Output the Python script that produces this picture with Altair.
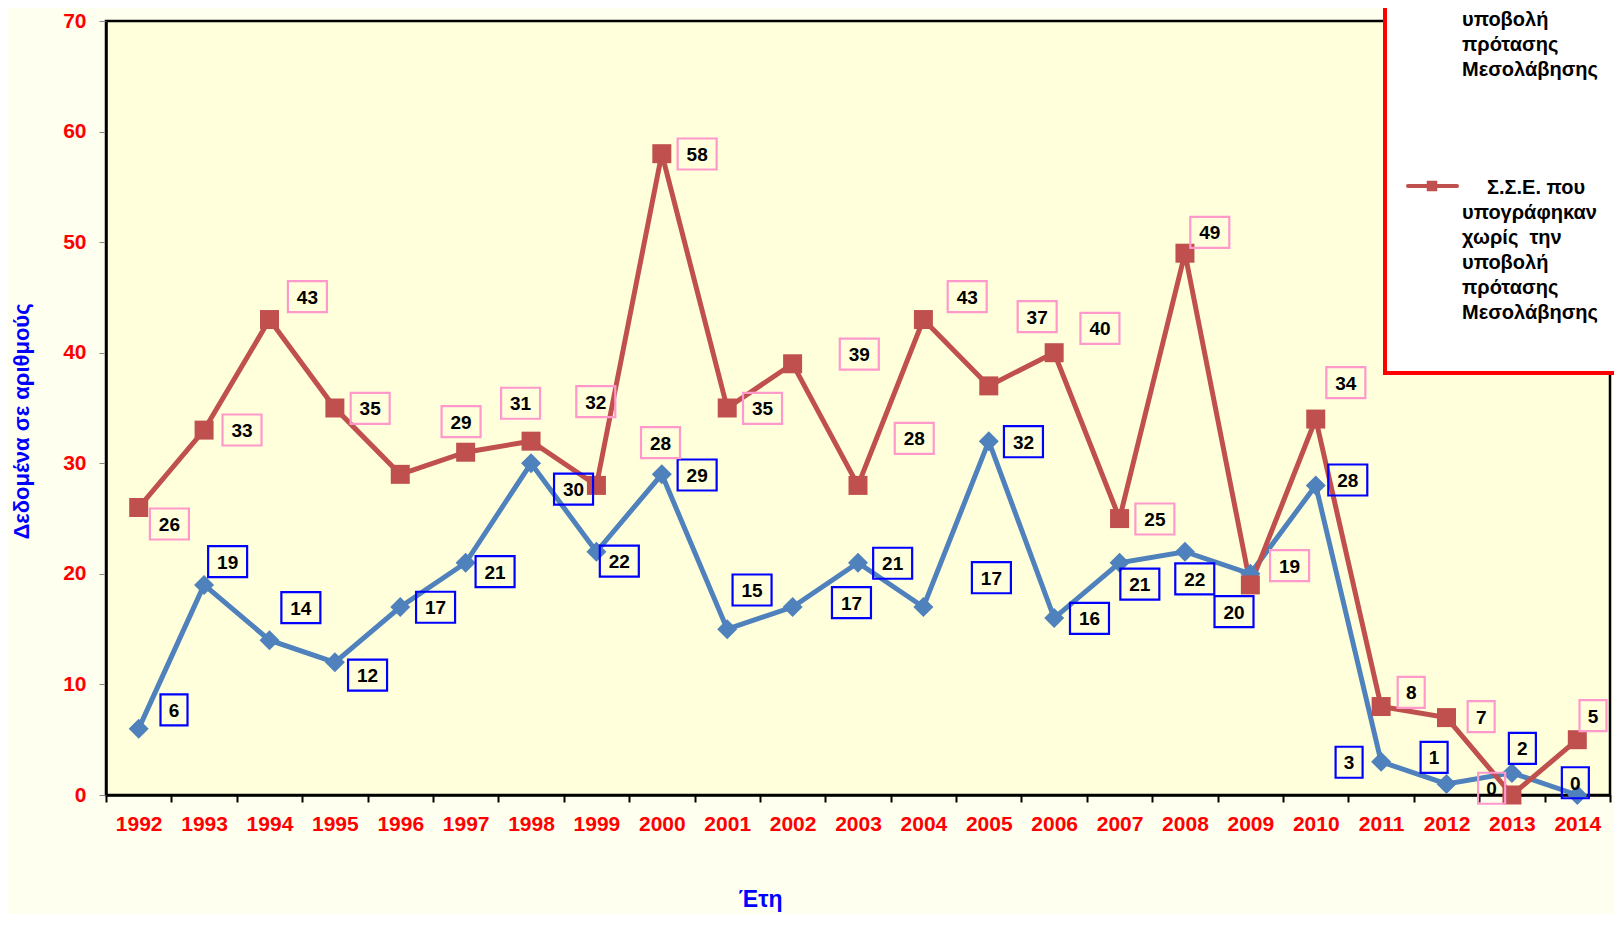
import altair as alt
import pandas as pd

# ---------------- data ----------------
years = list(range(1992, 2015))
blue_values = [6, 19, 14, 12, 17, 21, 30, 22, 29, 15, 17, 21, 17, 32, 16, 21, 22, 20, 28, 3, 1, 2, 0]
red_values = [26, 33, 43, 35, 29, 31, 32, 28, 58, 35, 39, 28, 43, 37, 40, 25, 49, 19, 34, 8, 7, 0, 5]

# where each data label sits in the original (year axis / value axis units)
red_label_year = [1992.47, 1993.58, 1994.58, 1995.54, 1996.93, 1997.84, 1998.99, 1999.98, 2000.54,
                  2001.54, 2003.02, 2003.86, 2004.67, 2005.74, 2006.70, 2007.54, 2008.38, 2009.60,
                  2010.46, 2011.46, 2012.53, 2012.69, 2014.24]
red_label_value = [24.51, 33.01, 45.07, 34.97, 33.76, 35.43, 35.57, 31.86, 57.97, 34.97, 39.88, 32.26,
                   45.07, 43.26, 42.21, 24.96, 50.89, 20.74, 37.29, 9.29, 7.08, 0.61, 7.17]
blue_label_year = [1992.54, 1993.36, 1994.48, 1995.50, 1996.54, 1997.45, 1998.65, 1999.35, 2000.54,
                   2001.38, 2002.90, 2003.53, 2005.04, 2005.53, 2006.54, 2007.31, 2008.15, 2008.75,
                   2010.49, 2010.51, 2011.81, 2013.16, 2013.97]
blue_label_value = [7.69, 21.10, 16.94, 10.85, 16.98, 20.20, 27.67, 21.16, 28.94, 18.54, 17.39, 20.96,
                    19.65, 31.95, 15.98, 19.08, 19.54, 16.58, 28.49, 2.96, 3.41, 4.22, 1.11]

y_ticks = [0, 10, 20, 30, 40, 50, 60, 70]
x_title = "Έτη"
y_title = "Δεδομένα σε αριθμούς"
legend_blue_head = "Σ.Σ.Ε. που"
legend_blue_rest = "υπογράφηκαν\nμετά την\nυποβολή\nπρότασης\nΜεσολάβησης"
legend_red_head = "Σ.Σ.Ε. που"
legend_red_rest = "υπογράφηκαν\nχωρίς\u00a0 την\nυποβολή\nπρότασης\nΜεσολάβησης"

# ---------------- styles ----------------
FONT = "Liberation Sans"
BLUE = "#4F81BD"
RED = "#C0504D"
BOX_BLUE = "#0000FF"
BOX_PINK = "#FF99CC"
W, H = 1504, 774
BAND = W / len(years)

df_blue = pd.DataFrame({"year": years, "value": blue_values,
                        "lx": blue_label_year, "ly": blue_label_value})
df_red = pd.DataFrame({"year": years, "value": red_values,
                       "lx": red_label_year, "ly": red_label_value})

x_scale = alt.Scale(domain=[years[0] - 0.5, years[-1] + 0.5], nice=False, zero=False)
y_scale = alt.Scale(domain=[0, 70], nice=False, zero=True)

x_axis = alt.Axis(
    values=[y - 0.5 for y in years] + [years[-1] + 0.5],
    labelExpr=f"datum.value < {years[-1]} ? '' + (floor(datum.value) + 1) : ''",
    labelOffset=BAND / 2, labelFlush=False, labelOverlap=False, labelBound=False,
    labelColor="#FF0000", labelFont=FONT, labelFontWeight="bold", labelFontSize=21,
    labelPadding=11, tickSize=7, tickColor="black", tickWidth=2,
    domainColor="black", domainWidth=2.5, grid=False,
    title=x_title, titleColor="#0000FF", titleFont=FONT, titleFontSize=23,
    titleFontWeight="bold", titleX=654, titleY=104, titleAlign="center",
    titleBaseline="middle", titleAnchor="start")

y_axis = alt.Axis(
    values=y_ticks, labelColor="#FF0000", labelFont=FONT, labelFontWeight="bold",
    labelFontSize=21, labelPadding=13, tickSize=7, tickColor="#888888", tickWidth=1,
    domainColor="black", domainWidth=2.5, grid=False,
    title=y_title, titleColor="#0000FF", titleFont=FONT, titleFontSize=22,
    titleFontWeight="bold", titleX=-85, titleY=400, titleAlign="center",
    titleBaseline="middle", titleAngle=270, titleAnchor="start")

box2 = "M-1,-0.795L1,-0.795L1,0.795L-1,0.795Z"
box1 = "M-0.871,-1L0.871,-1L0.871,1L-0.871,1Z"


def X(field):
    return alt.X(field, scale=x_scale, axis=x_axis)


def Y(field):
    return alt.Y(field, scale=y_scale, axis=y_axis)


def series(df, color, shape, size, box_color):
    base = alt.Chart(df)
    line = base.mark_line(color=color, strokeWidth=5).encode(x=X("year:Q"), y=Y("value:Q"))
    pts = base.mark_point(shape=shape, filled=True, size=size, color=color, opacity=1).encode(
        x=X("year:Q"), y=Y("value:Q"))
    boxes = base.mark_point(filled=False, strokeWidth=2.2, opacity=1, color=box_color).encode(
        x=X("lx:Q"), y=Y("ly:Q"),
        shape=alt.condition("datum.value >= 10", alt.value(box2), alt.value(box1)),
        size=alt.condition("datum.value >= 10", alt.value(1521), alt.value(961)))
    texts = base.mark_text(font=FONT, fontWeight="bold", fontSize=19, color="black",
                           baseline="middle", align="center", dy=1).encode(
        x=X("lx:Q"), y=Y("ly:Q"), text="value:Q")
    return line, pts, boxes, texts


b_line, b_pts, b_boxes, b_texts = series(df_blue, BLUE, "diamond", 400, BOX_BLUE)
r_line, r_pts, r_boxes, r_texts = series(df_red, RED, "square", 361, BOX_PINK)

# ---------------- manual legend (top right, partly outside the view) ----------------
one = pd.DataFrame({"a": [0]})
legend_box = alt.Chart(one).mark_rect(fill="white", stroke="#FF0000", strokeWidth=4).encode(
    x=alt.value(1279), x2=alt.value(1650), y=alt.value(-120), y2=alt.value(352))


def legend_item(color, shape, head, rest, y1):
    rule = alt.Chart(one).mark_rule(color=color, strokeWidth=4, strokeCap="round").encode(
        x=alt.value(1302), x2=alt.value(1351), y=alt.value(y1 - 2))
    sym = alt.Chart(one).mark_point(shape=shape, filled=True, size=110, color=color, opacity=1).encode(
        x=alt.value(1326), y=alt.value(y1 - 2))
    t1 = alt.Chart(pd.DataFrame({"t": [head]})).mark_text(
        font=FONT, fontWeight="bold", fontSize=20, color="black", align="left",
        baseline="middle").encode(x=alt.value(1381), y=alt.value(y1), text="t:N")
    t2 = alt.Chart(pd.DataFrame({"t": [rest]})).mark_text(
        font=FONT, fontWeight="bold", fontSize=20, color="black", align="left",
        baseline="middle", lineBreak="\n", lineHeight=25).encode(
        x=alt.value(1356), y=alt.value(y1 + 25), text="t:N")
    return [rule, sym, t1, t2]


leg = [legend_box]
leg += legend_item(BLUE, "diamond", legend_blue_head, legend_blue_rest, -76)
leg += legend_item(RED, "square", legend_red_head, legend_red_rest, 167)

chart = alt.layer(
    b_line, r_line, b_pts, r_pts, b_boxes, b_texts, r_boxes, r_texts, *leg
).properties(
    width=W, height=H,
    autosize=alt.AutoSizeParams(type="none"),
    padding={"left": 98, "top": 13, "right": 4, "bottom": 119},
    background="#FFFFF0",
).configure_view(fill="#FFFFDC", stroke="black", strokeWidth=2.5)

chart.save("out.html", embed_options={"renderer": "svg", "actions": False})
